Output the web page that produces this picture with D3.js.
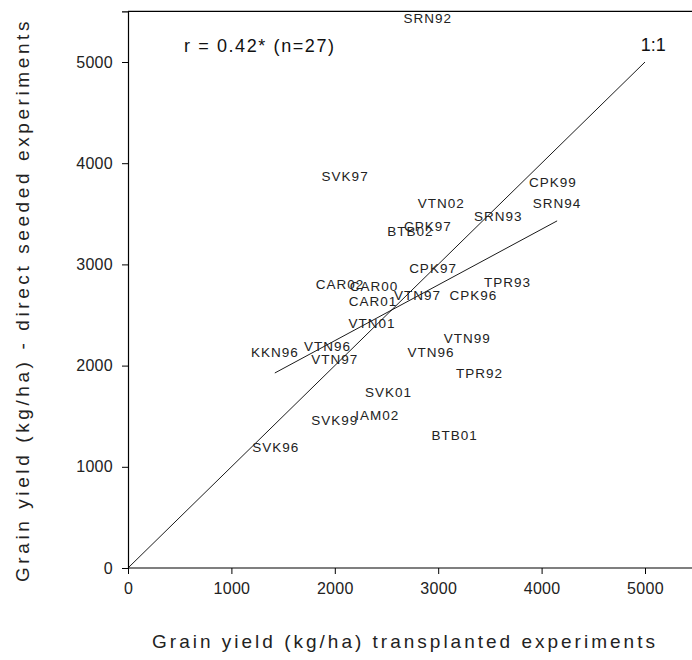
<!DOCTYPE html>
<html><head><meta charset="utf-8">
<script src="https://cdn.jsdelivr.net/npm/d3@7"></script>
<style>body{margin:0;background:#fff}</style>
</head><body>
<svg id="c" width="692" height="660"></svg>
<script>
const labels = ["SRN92","SVK97","VTN02","CPK97","BTB02","SRN93","CPK99","SRN94","CPK97","TPR93","CAR02","CAR00","CAR01","VTN97","CPK96","VTN01","VTN96","KKN96","VTN97","VTN99","VTN96","TPR92","SVK01","SVK99","IAM02","BTB01","SVK96"];
const transplanted = [2900,2100,3030,2900,2730,3580,4110,4150,2950,3670,2050,2380,2370,2800,3340,2360,1930,1420,2000,3280,2930,3400,2520,2000,2410,3160,1430];
const directSeeded = [5430,3870,3600,3370,3330,3470,3810,3600,2960,2820,2800,2780,2630,2690,2690,2420,2190,2130,2060,2270,2130,1920,1730,1460,1510,1310,1190];
const xTicks = [0,1000,2000,3000,4000,5000];
const yTicks = [0,1000,2000,3000,4000,5000];
const oneToOne = [[0,0],[5000,5000]];
const regression = [[1420,1927],[4150,3430]];

const svg = d3.select("#c");
const x = d3.scaleLinear().domain([0,5500]).range([128,128+5500*0.1034]);
const y = d3.scaleLinear().domain([0,5500]).range([568,568-5500*0.1012]);
const font = "Arial, 'Liberation Sans', sans-serif";

// top border
svg.append("line").attr("x1",x(0)).attr("x2",692).attr("y1",y(5500)).attr("y2",y(5500)).attr("stroke","#000").attr("stroke-width",1.2);

const xa = svg.append("g").attr("transform",`translate(0,${y(0)})`)
  .call(d3.axisBottom(x).tickValues(xTicks).tickSize(6).tickPadding(9).tickFormat(d3.format("d")));
const ya = svg.append("g").attr("transform",`translate(${x(0)},0)`)
  .call(d3.axisLeft(y).tickValues(yTicks).tickSize(6).tickPadding(9).tickFormat(d3.format("d")));
[xa,ya].forEach(a=>{
  a.select(".domain").attr("stroke","#000").attr("stroke-width",1.2);
  a.selectAll(".tick line").attr("stroke","#000");
  a.selectAll("text").attr("font-family",font).attr("font-size",16).attr("letter-spacing",0.3).attr("fill","#222");
});
xa.select(".domain").attr("d",`M${x(0)},0H692`);

const line = d3.line().x(d=>x(d[0])).y(d=>y(d[1]));
svg.append("path").attr("d",line(oneToOne)).attr("stroke","#000").attr("fill","none").attr("stroke-width",0.9);
svg.append("path").attr("d",line(regression)).attr("stroke","#000").attr("fill","none").attr("stroke-width",0.9);

svg.append("g").selectAll("text").data(labels).join("text")
  .attr("x",(d,i)=>x(transplanted[i])).attr("y",(d,i)=>y(directSeeded[i]))
  .attr("text-anchor","middle").attr("dominant-baseline","central")
  .attr("font-family",font).attr("font-size",13.5).attr("letter-spacing",1).attr("fill","#222")
  .text(d=>d);

svg.append("text").attr("x",x(5080)).attr("y",y(5170)).attr("text-anchor","middle").attr("dominant-baseline","central")
  .attr("font-family",font).attr("font-size",18).attr("fill","#111").text("1:1");
svg.append("text").attr("x",184).attr("y",46).attr("dominant-baseline","central")
  .attr("font-family",font).attr("font-size",18).attr("letter-spacing",1.6).attr("fill","#111").text("r = 0.42* (n=27)");

svg.append("text").attr("x",405).attr("y",641).attr("text-anchor","middle").attr("dominant-baseline","central")
  .attr("font-family",font).attr("font-size",19).attr("letter-spacing",3).attr("fill","#222")
  .text("Grain yield (kg/ha) transplanted experiments");
svg.append("text").attr("transform","translate(22,300) rotate(-90)").attr("text-anchor","middle").attr("dominant-baseline","central")
  .attr("font-family",font).attr("font-size",19).attr("letter-spacing",3.6).attr("fill","#222")
  .text("Grain yield (kg/ha) - direct seeded experiments");
</script>
</body></html>
